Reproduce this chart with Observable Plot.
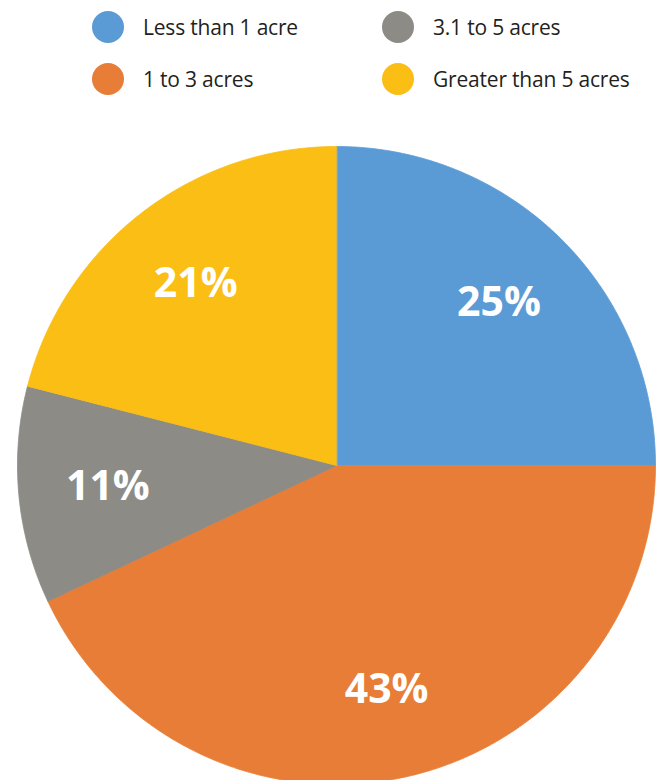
<!DOCTYPE html>
<html>
<head>
<meta charset="utf-8">
<script src="https://cdn.jsdelivr.net/npm/d3@7"></script>
<script src="https://cdn.jsdelivr.net/npm/@observablehq/plot@0.6"></script>
<style>
  html, body { margin: 0; padding: 0; background: #fff; }
  body { width: 657px; height: 780px; overflow: hidden; }
  #legend { position: relative; height: 110px; font-family: "Open Sans", sans-serif; font-size: 21px; letter-spacing: -0.2px; color: #231f20; }
  .item { position: absolute; display: flex; align-items: center; height: 32px; }
  .swatch { width: 32px; height: 32px; border-radius: 50%; margin-right: 19px; flex: none; }
  #chart svg { display: block; }
</style>
</head>
<body>
<div id="legend"></div>
<div id="chart"></div>
<script>
// Data
const categories = ["Less than 1 acre", "1 to 3 acres", "3.1 to 5 acres", "Greater than 5 acres"];
const values = [25, 43, 11, 21];
const labels = ["25%", "43%", "11%", "21%"];
const colors = ["#5b9bd5", "#e77d37", "#8c8b86", "#fbbe15"];
// Legend layout order (column-major, as drawn in the reference)
const legendOrder = [0, 1, 2, 3];

// Legend (HTML, above the SVG)
const legend = document.getElementById("legend");
legendOrder.forEach((ci, i) => {
  const col = Math.floor(i / 2), row = i % 2;
  const item = document.createElement("div");
  item.className = "item";
  item.style.left = (92 + col * 290) + "px";
  item.style.top = (11 + row * 52) + "px";
  const sw = document.createElement("span");
  sw.className = "swatch";
  sw.style.background = colors[ci];
  const tx = document.createElement("span");
  tx.textContent = categories[ci];
  item.appendChild(sw);
  item.appendChild(tx);
  legend.appendChild(item);
});

// Pie geometry from the values (angles clockwise from 12 o'clock)
const total = d3.sum(values);
const pie = d3.pie().sort(null).value(d => d)(values);
const polygons = [];
const labelRows = [];
pie.forEach((p, i) => {
  const a0 = p.startAngle, a1 = p.endAngle;
  const n = Math.max(2, Math.ceil((a1 - a0) / (Math.PI / 360)));
  polygons.push({cat: categories[i], x: 0, y: 0});
  for (let k = 0; k <= n; k++) {
    const a = a0 + (a1 - a0) * k / n;
    polygons.push({cat: categories[i], x: Math.sin(a), y: Math.cos(a)});
  }
  const mid = (a0 + a1) / 2;
  labelRows.push({cat: categories[i], label: labels[i], x: 0.72 * Math.sin(mid), y: 0.72 * Math.cos(mid)});
});

const chart = Plot.plot({
  width: 657,
  height: 670,
  margin: 0,
  x: {domain: [-1, 1], range: [17, 655], axis: null},
  y: {domain: [-1, 1], range: [674, 36], axis: null},
  color: {domain: categories, range: colors},
  style: {background: "transparent", overflow: "visible"},
  marks: [
    Plot.line(polygons, {x: "x", y: "y", z: "cat", fill: "cat", stroke: "cat", strokeWidth: 0.8, curve: "linear-closed"}),
    Plot.text(labelRows, {x: "x", y: "y", text: "label", fill: "white", fontSize: 41, fontWeight: "bold", fontFamily: "Open Sans, sans-serif"})
  ]
});
document.getElementById("chart").appendChild(chart);
</script>
</body>
</html>
